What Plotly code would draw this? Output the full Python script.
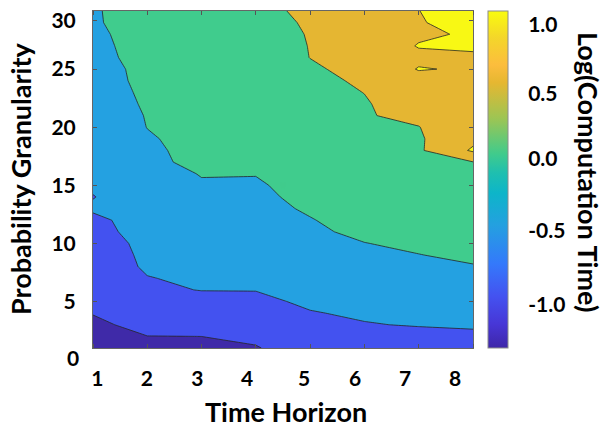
import plotly.graph_objects as go

# ---------------- data ----------------
time_horizon = [1, 2, 3, 4, 5, 6, 7, 8]
granularity = list(range(1, 31))

# log(computation time) along granularity (1..30) for each time horizon
z_t1 = [-1.36, -1.26, -1.16, -0.97, -0.92, -0.88, -0.86, -0.84, -0.80, -0.75,
        -0.64, -0.60, -0.44, -0.515, -0.44, -0.45, -0.45, -0.45, -0.45, -0.45,
        -0.42, -0.40, -0.37, -0.31, -0.30, -0.204, -0.173, -0.136, -0.075, -0.068]
z_t2 = [-1.12, -1.01, -0.76, -0.68, -0.62, -0.56, -0.52, -0.43, -0.40, -0.37,
        -0.34, -0.31, -0.28, -0.25, -0.22, -0.18, -0.11, -0.09, -0.055, 0.009,
        0.032, 0.082, 0.13, 0.17, 0.20, 0.23, 0.26, 0.29, 0.31, 0.33]
z_t3 = [-1.12, -0.999, -0.85, -0.72, -0.62, -0.49, -0.41, -0.36, -0.31, -0.26,
        -0.21, -0.17, -0.12, -0.08, -0.04, 0.02, 0.12, 0.15, 0.19, 0.23,
        0.26, 0.28, 0.30, 0.31, 0.32, 0.33, 0.34, 0.35, 0.36, 0.37]
z_t4 = [-1.02, -0.94, -0.72, -0.64, -0.58, -0.49, -0.43, -0.38, -0.33, -0.28,
        -0.23, -0.18, -0.13, -0.09, -0.05, 0.015, 0.08, 0.14, 0.19, 0.23,
        0.27, 0.30, 0.33, 0.36, 0.38, 0.40, 0.41, 0.42, 0.43, 0.44]
z_t5 = [-0.82, -0.70, -0.60, -0.52, -0.44, -0.38, -0.33, -0.28, -0.22, -0.15,
        -0.08, -0.02, 0.05, 0.11, 0.16, 0.20, 0.24, 0.28, 0.31, 0.34,
        0.37, 0.40, 0.43, 0.455, 0.48, 0.502, 0.505, 0.51, 0.522, 0.545]
z_t6 = [-0.72, -0.60, -0.52, -0.45, -0.39, -0.33, -0.26, -0.19, -0.11, -0.01,
        0.10, 0.16, 0.20, 0.24, 0.28, 0.31, 0.34, 0.37, 0.40, 0.42,
        0.47, 0.483, 0.503, 0.525, 0.545, 0.58, 0.62, 0.66, 0.70, 0.74]
z_t7 = [-0.70, -0.626, -0.476, -0.40, -0.34, -0.27, -0.19, -0.10, -0.01, 0.09,
        0.16, 0.22, 0.27, 0.31, 0.35, 0.38, 0.41, 0.4375, 0.45, 0.489,
        0.60, 0.61, 0.66, 0.80, 1.03, 0.88, 1.03, 0.92, 0.984, 0.997]
z_t8 = [-0.64, -0.56, -0.463, -0.38, -0.31, -0.22, -0.13, -0.027, 0.09, 0.16,
        0.22, 0.28, 0.33, 0.38, 0.42, 0.46, 0.49, 1.0625, 0.89, 0.85,
        0.86, 0.88, 0.90, 0.92, 0.94, 0.97, 1.03, 1.06, 1.09, 1.12]

level_start, level_end, level_step = -1.0, 1.0, 0.5
band_colors = ["#3f2aa8", "#4352f0", "#24a1e1", "#40cc8d", "#e5b632", "#f8f814"]

cbar_min, cbar_max = -1.36, 1.0
parula = [[0.00, "#3e26a8"], [0.07, "#4736d6"], [0.153, "#4452f0"], [0.25, "#3479fb"],
          [0.364, "#24a0e0"], [0.46, "#0db5c9"], [0.52, "#1fbfaf"], [0.576, "#40cb8c"],
          [0.68, "#9cc554"], [0.788, "#e6b731"], [0.84, "#fcbd3d"], [0.92, "#f4d62a"],
          [1.00, "#f9fb0e"]]

x_tick_pos = [1.08, 1.99, 2.92, 3.84, 4.89, 5.83, 6.75, 7.67]
x_tick_text = ["1", "2", "3", "4", "5", "6", "7", "8"]
y_tick_pos = [5, 10, 15, 20, 25, 29.17]
y_tick_text = ["5", "10", "15", "20", "25", "30"]
cbar_tick_pos = [-1.056, -0.535, -0.035, 0.423, 0.905]
cbar_tick_text = ["-1.0", "-0.5", "0.0", "0.5", "1.0"]

# ---------------- figure ----------------
z = [list(row) for row in zip(z_t1, z_t2, z_t3, z_t4, z_t5, z_t6, z_t7, z_t8)]

W, H = 608, 447
L, R, T, B = 93, 135, 11, 99
plot_w, plot_h = W - L - R, H - T - B


def px_x(p):
    return (p - L) / plot_w


def px_y(p):
    return (H - B - p) / plot_h


FONT = "Lato"
tick_font = dict(family=FONT, size=21, color="black", weight="bold")
title_font = dict(family=FONT, size=27, color="black", weight="bold")

fig = go.Figure()
fig.add_trace(go.Contour(
    x=time_horizon, y=granularity, z=z,
    autocontour=False,
    contours=dict(start=level_start, end=level_end, size=level_step,
                  coloring="fill", showlines=True),
    colorscale=[[i / (len(band_colors) - 1), c] for i, c in enumerate(band_colors)],
    line=dict(color="#262626", width=0.8, smoothing=0),
    showscale=False, hoverinfo="skip",
))

fig.add_trace(go.Scatter(
    x=[4.5], y=[15], mode="markers", hoverinfo="skip", showlegend=False,
    marker=dict(size=0, color=[0.0], cmin=cbar_min, cmax=cbar_max,
                colorscale=parula, showscale=True,
                colorbar=dict(thickness=20, thicknessmode="pixels",
                              len=1, lenmode="fraction",
                              x=px_x(488), xanchor="left", xpad=0,
                              y=0.5, yanchor="middle", ypad=0,
                              outlinewidth=1, outlinecolor="#8c8c8c",
                              tickmode="array", tickvals=cbar_tick_pos,
                              ticktext=cbar_tick_text,
                              ticks="outside", ticklen=16,
                              tickcolor="rgba(0,0,0,0)",
                              tickfont=tick_font)),
))

fig.update_xaxes(range=[1, 8], tickmode="array", tickvals=x_tick_pos,
                 ticktext=x_tick_text, ticks="", tickfont=tick_font,
                 ticklabelstandoff=12,
                 minor=dict(tickvals=time_horizon, ticks="inside", ticklen=4,
                            tickcolor="#555"),
                 showline=True, linecolor="#666", linewidth=1, mirror="ticks",
                 showgrid=False, zeroline=False)
fig.update_yaxes(range=[1, 30], tickmode="array", tickvals=y_tick_pos,
                 ticktext=y_tick_text, ticks="inside", ticklen=4, tickcolor="#555",
                 tickfont=tick_font, ticklabelstandoff=12,
                 showline=True, linecolor="#666", linewidth=1, mirror="ticks",
                 showgrid=False, zeroline=False)

fig.add_annotation(text="0", x=px_x(73), y=px_y(357), xref="paper", yref="paper",
                   showarrow=False, font=tick_font, xanchor="center", yanchor="middle")
fig.add_annotation(text="Time Horizon", x=px_x(286), y=px_y(412), xref="paper",
                   yref="paper", showarrow=False, font=title_font,
                   xanchor="center", yanchor="middle")
fig.add_annotation(text="Probability Granularity", x=px_x(20), y=px_y(179),
                   xref="paper", yref="paper", showarrow=False, font=title_font,
                   textangle=-90, xanchor="center", yanchor="middle")
fig.add_annotation(text="Log(Computation Time)", x=px_x(588), y=px_y(172),
                   xref="paper", yref="paper", showarrow=False, font=title_font,
                   textangle=90, xanchor="center", yanchor="middle")

fig.update_layout(width=W, height=H,
                  margin=dict(l=L, r=R, t=T, b=B, autoexpand=False),
                  paper_bgcolor="white", plot_bgcolor="white",
                  font=dict(family=FONT), showlegend=False)

fig.write_html("out.html",
               config={"displayModeBar": False},
               post_script="document.body.style.margin='0';"
                           "document.body.style.overflow='hidden';")
